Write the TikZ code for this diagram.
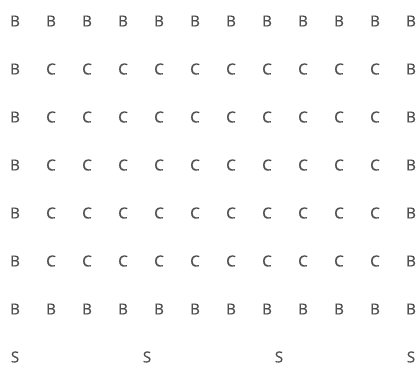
\documentclass[tikz,border=0pt]{standalone}
\usepackage{fontspec}
\setmainfont{Open Sans}
\newfontface\cellfont{Open Sans}[FakeBold=0.6]
\definecolor{lettergray}{RGB}{80,80,80}
\tikzset{cell/.style={text=lettergray, font=\cellfont\fontsize{13}{13}\selectfont, inner sep=0pt}}
\begin{document}
\begin{tikzpicture}[x=1.08cm, y=-1.44cm]
        \useasboundingbox (-0.417,-0.438) rectangle (11.167,7.333);
        % top border row
        \node[cell] (b00) at (0,0) {B}; \node[cell] (b01) at (1,0) {B}; \node[cell] (b02) at (2,0) {B}; \node[cell] (b03) at (3,0) {B};
        \node[cell] (b04) at (4,0) {B}; \node[cell] (b05) at (5,0) {B}; \node[cell] (b06) at (6,0) {B}; \node[cell] (b07) at (7,0) {B};
        \node[cell] (b08) at (8,0) {B}; \node[cell] (b09) at (9,0) {B}; \node[cell] (b010) at (10,0) {B}; \node[cell] (b011) at (11,0) {B};
        % row 1
        \node[cell] (b10) at (0,1) {B}; \node[cell] (c11) at (1,1) {C}; \node[cell] (c12) at (2,1) {C}; \node[cell] (c13) at (3,1) {C};
        \node[cell] (c14) at (4,1) {C}; \node[cell] (c15) at (5,1) {C}; \node[cell] (c16) at (6,1) {C}; \node[cell] (c17) at (7,1) {C};
        \node[cell] (c18) at (8,1) {C}; \node[cell] (c19) at (9,1) {C}; \node[cell] (c110) at (10,1) {C}; \node[cell] (b111) at (11,1) {B};
        % row 2
        \node[cell] (b20) at (0,2) {B}; \node[cell] (c21) at (1,2) {C}; \node[cell] (c22) at (2,2) {C}; \node[cell] (c23) at (3,2) {C};
        \node[cell] (c24) at (4,2) {C}; \node[cell] (c25) at (5,2) {C}; \node[cell] (c26) at (6,2) {C}; \node[cell] (c27) at (7,2) {C};
        \node[cell] (c28) at (8,2) {C}; \node[cell] (c29) at (9,2) {C}; \node[cell] (c210) at (10,2) {C}; \node[cell] (b211) at (11,2) {B};
        % row 3
        \node[cell] (b30) at (0,3) {B}; \node[cell] (c31) at (1,3) {C}; \node[cell] (c32) at (2,3) {C}; \node[cell] (c33) at (3,3) {C};
        \node[cell] (c34) at (4,3) {C}; \node[cell] (c35) at (5,3) {C}; \node[cell] (c36) at (6,3) {C}; \node[cell] (c37) at (7,3) {C};
        \node[cell] (c38) at (8,3) {C}; \node[cell] (c39) at (9,3) {C}; \node[cell] (c310) at (10,3) {C}; \node[cell] (b311) at (11,3) {B};
        % row 4
        \node[cell] (b40) at (0,4) {B}; \node[cell] (c41) at (1,4) {C}; \node[cell] (c42) at (2,4) {C}; \node[cell] (c43) at (3,4) {C};
        \node[cell] (c44) at (4,4) {C}; \node[cell] (c45) at (5,4) {C}; \node[cell] (c46) at (6,4) {C}; \node[cell] (c47) at (7,4) {C};
        \node[cell] (c48) at (8,4) {C}; \node[cell] (c49) at (9,4) {C}; \node[cell] (c410) at (10,4) {C}; \node[cell] (b411) at (11,4) {B};
        % row 5
        \node[cell] (b50) at (0,5) {B}; \node[cell] (c51) at (1,5) {C}; \node[cell] (c52) at (2,5) {C}; \node[cell] (c53) at (3,5) {C};
        \node[cell] (c54) at (4,5) {C}; \node[cell] (c55) at (5,5) {C}; \node[cell] (c56) at (6,5) {C}; \node[cell] (c57) at (7,5) {C};
        \node[cell] (c58) at (8,5) {C}; \node[cell] (c59) at (9,5) {C}; \node[cell] (c510) at (10,5) {C}; \node[cell] (b511) at (11,5) {B};
        % bottom border row
        \node[cell] (b60) at (0,6) {B}; \node[cell] (b61) at (1,6) {B}; \node[cell] (b62) at (2,6) {B}; \node[cell] (b63) at (3,6) {B};
        \node[cell] (b64) at (4,6) {B}; \node[cell] (b65) at (5,6) {B}; \node[cell] (b66) at (6,6) {B}; \node[cell] (b67) at (7,6) {B};
        \node[cell] (b68) at (8,6) {B}; \node[cell] (b69) at (9,6) {B}; \node[cell] (b610) at (10,6) {B}; \node[cell] (b611) at (11,6) {B};
        % supports, every 11/3 columns
        \node[cell] (s0) at (0.000,7) {S}; \node[cell] (s1) at (3.667,7) {S}; % x = 0, 11/3
        \node[cell] (s2) at (7.333,7) {S}; \node[cell] (s3) at (11.000,7) {S}; % x = 22/3, 11
\end{tikzpicture}
\end{document}
